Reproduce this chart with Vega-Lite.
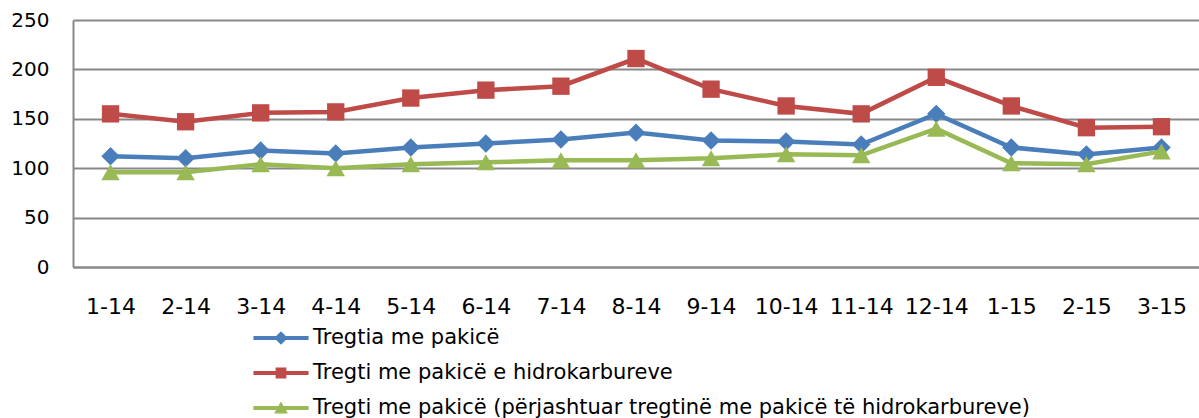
{
  "$schema": "https://vega.github.io/schema/vega-lite/v6.json",
  "width": 1126,
  "height": 247,
  "autosize": {"type": "none"},
  "padding": {"left": 73, "top": 20, "right": 0, "bottom": 151},
  "background": "white",
  "config": {"view": {"stroke": null}, "font": "DejaVu Sans"},
  "data": {"values": [
    {"month": "1-14", "series": "Tregtia me pakicë", "value": 112},
    {"month": "2-14", "series": "Tregtia me pakicë", "value": 110},
    {"month": "3-14", "series": "Tregtia me pakicë", "value": 118},
    {"month": "4-14", "series": "Tregtia me pakicë", "value": 115},
    {"month": "5-14", "series": "Tregtia me pakicë", "value": 121},
    {"month": "6-14", "series": "Tregtia me pakicë", "value": 125},
    {"month": "7-14", "series": "Tregtia me pakicë", "value": 129},
    {"month": "8-14", "series": "Tregtia me pakicë", "value": 136},
    {"month": "9-14", "series": "Tregtia me pakicë", "value": 128},
    {"month": "10-14", "series": "Tregtia me pakicë", "value": 127},
    {"month": "11-14", "series": "Tregtia me pakicë", "value": 124},
    {"month": "12-14", "series": "Tregtia me pakicë", "value": 155},
    {"month": "1-15", "series": "Tregtia me pakicë", "value": 121},
    {"month": "2-15", "series": "Tregtia me pakicë", "value": 114},
    {"month": "3-15", "series": "Tregtia me pakicë", "value": 121},
    {"month": "1-14", "series": "Tregti me pakicë e hidrokarbureve", "value": 155},
    {"month": "2-14", "series": "Tregti me pakicë e hidrokarbureve", "value": 147},
    {"month": "3-14", "series": "Tregti me pakicë e hidrokarbureve", "value": 156},
    {"month": "4-14", "series": "Tregti me pakicë e hidrokarbureve", "value": 157},
    {"month": "5-14", "series": "Tregti me pakicë e hidrokarbureve", "value": 171},
    {"month": "6-14", "series": "Tregti me pakicë e hidrokarbureve", "value": 179},
    {"month": "7-14", "series": "Tregti me pakicë e hidrokarbureve", "value": 183},
    {"month": "8-14", "series": "Tregti me pakicë e hidrokarbureve", "value": 211},
    {"month": "9-14", "series": "Tregti me pakicë e hidrokarbureve", "value": 180},
    {"month": "10-14", "series": "Tregti me pakicë e hidrokarbureve", "value": 163},
    {"month": "11-14", "series": "Tregti me pakicë e hidrokarbureve", "value": 155},
    {"month": "12-14", "series": "Tregti me pakicë e hidrokarbureve", "value": 192},
    {"month": "1-15", "series": "Tregti me pakicë e hidrokarbureve", "value": 163},
    {"month": "2-15", "series": "Tregti me pakicë e hidrokarbureve", "value": 141},
    {"month": "3-15", "series": "Tregti me pakicë e hidrokarbureve", "value": 142},
    {"month": "1-14", "series": "Tregti me pakicë (përjashtuar tregtinë me pakicë të hidrokarbureve)", "value": 96},
    {"month": "2-14", "series": "Tregti me pakicë (përjashtuar tregtinë me pakicë të hidrokarbureve)", "value": 96},
    {"month": "3-14", "series": "Tregti me pakicë (përjashtuar tregtinë me pakicë të hidrokarbureve)", "value": 104},
    {"month": "4-14", "series": "Tregti me pakicë (përjashtuar tregtinë me pakicë të hidrokarbureve)", "value": 100},
    {"month": "5-14", "series": "Tregti me pakicë (përjashtuar tregtinë me pakicë të hidrokarbureve)", "value": 104},
    {"month": "6-14", "series": "Tregti me pakicë (përjashtuar tregtinë me pakicë të hidrokarbureve)", "value": 106},
    {"month": "7-14", "series": "Tregti me pakicë (përjashtuar tregtinë me pakicë të hidrokarbureve)", "value": 108},
    {"month": "8-14", "series": "Tregti me pakicë (përjashtuar tregtinë me pakicë të hidrokarbureve)", "value": 108},
    {"month": "9-14", "series": "Tregti me pakicë (përjashtuar tregtinë me pakicë të hidrokarbureve)", "value": 110},
    {"month": "10-14", "series": "Tregti me pakicë (përjashtuar tregtinë me pakicë të hidrokarbureve)", "value": 114},
    {"month": "11-14", "series": "Tregti me pakicë (përjashtuar tregtinë me pakicë të hidrokarbureve)", "value": 113},
    {"month": "12-14", "series": "Tregti me pakicë (përjashtuar tregtinë me pakicë të hidrokarbureve)", "value": 140},
    {"month": "1-15", "series": "Tregti me pakicë (përjashtuar tregtinë me pakicë të hidrokarbureve)", "value": 105},
    {"month": "2-15", "series": "Tregti me pakicë (përjashtuar tregtinë me pakicë të hidrokarbureve)", "value": 104},
    {"month": "3-15", "series": "Tregti me pakicë (përjashtuar tregtinë me pakicë të hidrokarbureve)", "value": 117}
  ]},
  "encoding": {
    "x": {
      "field": "month", "type": "ordinal", "sort": null,
      "scale": {"type": "point", "padding": 0.5},
      "axis": {"title": null, "labelAngle": 0, "labelFont": "DejaVu Sans", "labelFontSize": 22, "labelColor": "black", "labelPadding": 29, "ticks": false, "grid": false, "domainColor": "#888888", "domainWidth": 2}
    },
    "y": {
      "field": "value", "type": "quantitative",
      "scale": {"domain": [0, 250], "nice": false},
      "axis": {"title": null, "values": [0, 50, 100, 150, 200, 250], "labelFont": "DejaVu Sans", "labelFontSize": 20, "labelColor": "black", "labelPadding": 24, "ticks": false, "grid": true, "gridColor": "#888888", "gridWidth": 2, "domainColor": "#888888", "domainWidth": 2}
    }
  },
  "layer": [
    {
      "transform": [{"filter": "datum.series == 'Tregtia me pakicë'"}],
      "mark": {"type": "line", "strokeWidth": 4.5, "color": "#4A7EBB"}
    },
    {
      "transform": [{"filter": "datum.series == 'Tregtia me pakicë'"}],
      "mark": {"type": "point", "shape": "diamond", "filled": true, "size": 340, "opacity": 1, "color": "#4A7EBB"}
    },
    {
      "transform": [{"filter": "datum.series == 'Tregti me pakicë e hidrokarbureve'"}],
      "mark": {"type": "line", "strokeWidth": 4.5, "color": "#BE4B48"}
    },
    {
      "transform": [{"filter": "datum.series == 'Tregti me pakicë e hidrokarbureve'"}],
      "mark": {"type": "point", "shape": "square", "filled": true, "size": 300, "opacity": 1, "color": "#BE4B48"}
    },
    {
      "transform": [{"filter": "datum.series == 'Tregti me pakicë (përjashtuar tregtinë me pakicë të hidrokarbureve)'"}],
      "mark": {"type": "line", "strokeWidth": 4.5, "color": "#98B954"}
    },
    {
      "transform": [{"filter": "datum.series == 'Tregti me pakicë (përjashtuar tregtinë me pakicë të hidrokarbureve)'"}],
      "mark": {"type": "point", "shape": "triangle-up", "filled": true, "size": 340, "opacity": 1, "color": "#98B954"}
    },
    {
      "mark": {"type": "point", "filled": true, "opacity": 0},
      "encoding": {
        "color": {"field": "series", "type": "nominal",
          "scale": {"domain": ["Tregtia me pakicë", "Tregti me pakicë e hidrokarbureve", "Tregti me pakicë (përjashtuar tregtinë me pakicë të hidrokarbureve)"], "range": ["#4A7EBB", "#BE4B48", "#98B954"]},
          "legend": {"orient": "none", "legendX": 190, "legendY": 300, "title": null, "direction": "vertical", "labelFont": "DejaVu Sans", "labelFontSize": 21, "labelColor": "black", "symbolSize": 1296, "symbolStrokeWidth": 0, "symbolOpacity": 1, "labelOffset": 14, "rowPadding": 7, "padding": 0, "labelLimit": 1000,
            "labelExpr": "indexof(datum.label, 'Tregtia') == 0 ? '\u2002' + datum.label : datum.label"}},
        "shape": {"field": "series", "type": "nominal",
          "scale": {"domain": ["Tregtia me pakicë", "Tregti me pakicë e hidrokarbureve", "Tregti me pakicë (përjashtuar tregtinë me pakicë të hidrokarbureve)"],
            "range": [
              "M-1.53,-0.11H1.53V0.11H-1.53Z M0,-0.38L0.38,0L0,0.38L-0.38,0Z",
              "M-1.53,-0.11H1.53V0.11H-1.53Z M-0.3,-0.3H0.3V0.3H-0.3Z",
              "M-1.53,-0.11H1.53V0.11H-1.53Z M0,-0.36L0.38,0.3L-0.38,0.3Z"
            ]},
          "legend": {"orient": "none", "legendX": 190, "legendY": 300, "title": null, "direction": "vertical", "labelFont": "DejaVu Sans", "labelFontSize": 21, "labelColor": "black", "symbolSize": 1296, "symbolStrokeWidth": 0, "symbolOpacity": 1, "labelOffset": 14, "rowPadding": 7, "padding": 0, "labelLimit": 1000,
            "labelExpr": "indexof(datum.label, 'Tregtia') == 0 ? '\u2002' + datum.label : datum.label"}}
      }
    }
  ]
}
